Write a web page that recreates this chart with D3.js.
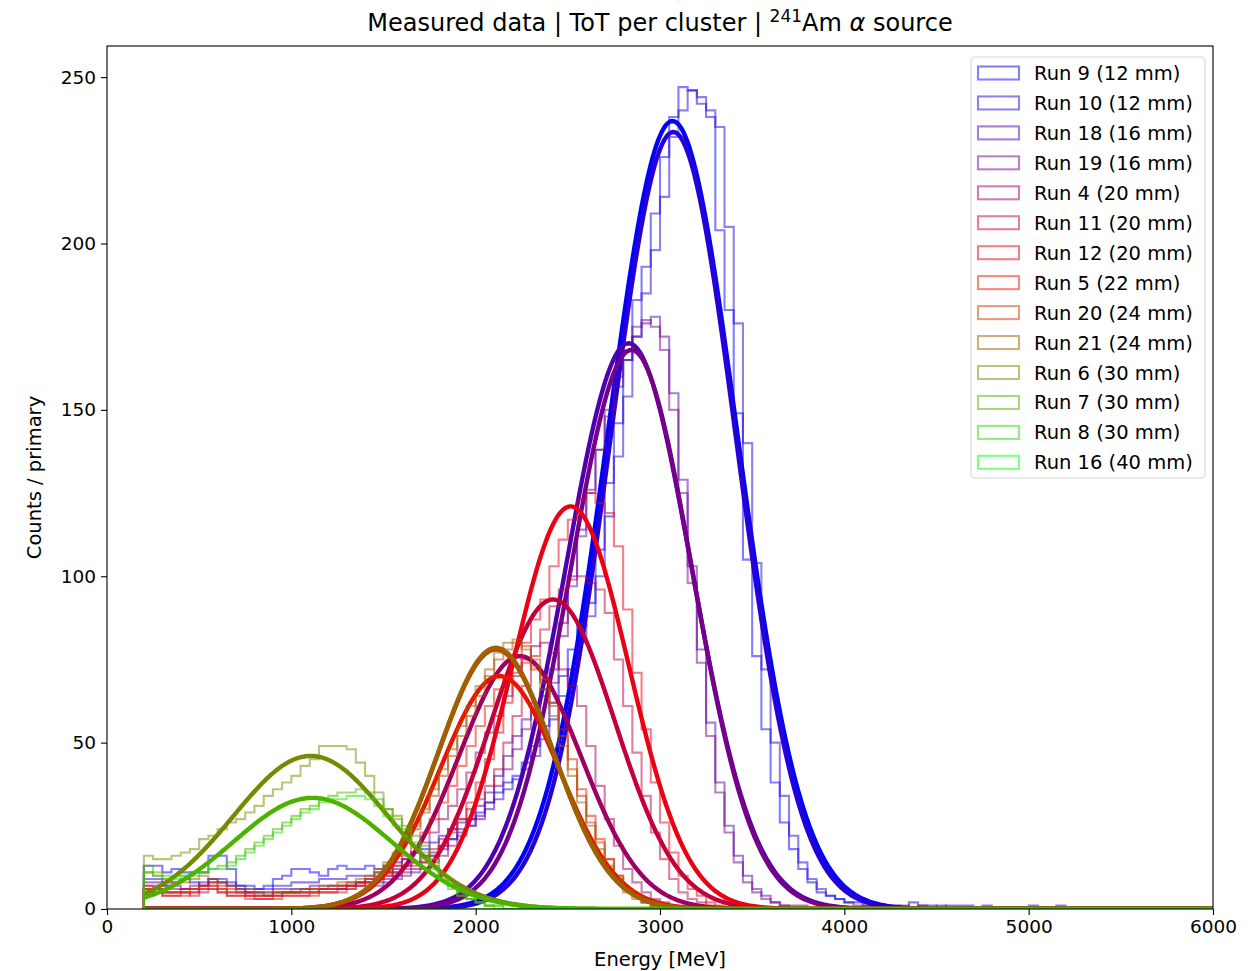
<!DOCTYPE html>
<html lang="en">
<head>
<meta charset="utf-8">
<title>ToT per cluster</title>
<script src="https://d3js.org/d3.v7.min.js"></script>
<style>
body { margin: 0; background: #fff; }
text { font-family: "DejaVu Sans", sans-serif; fill: #000; }
</style>
</head>
<body>
<div id="chart"></div>
<script>
// runs, in plotting order
var runLabels = ["Run 9 (12 mm)", "Run 10 (12 mm)", "Run 18 (16 mm)", "Run 19 (16 mm)",
  "Run 4 (20 mm)", "Run 11 (20 mm)", "Run 12 (20 mm)", "Run 5 (22 mm)", "Run 20 (24 mm)",
  "Run 21 (24 mm)", "Run 6 (30 mm)", "Run 7 (30 mm)", "Run 8 (30 mm)", "Run 16 (40 mm)"];

// histogram bins: 50 MeV wide from 200 to 6000, counts per bin (empty bins after the list)
var binStart = 200, binWidth = 50, binCount = 116;

var histRun9 = [13,13,11,12,11,11,11,16,16,12, 7,7,6,7,9,10,12,12,11,10,
  12,13,12,12,13,12,13,14,15,17, 18,20,22,24,26,27,29,32,35,38,
  40,44,49,55,62,70,78,85,92,108, 128,146,165,183,193,209,226,238,247,246,
  242,238,204,180,149,105,76,54,38,26, 18,12,8,5,4,3,2,2,1,1,
  1,1,0,2,1,1,0,1,1,1, 0,1,0,0,0,0,1,0,0,1];
var histRun10 = [9,9,8,8,9,8,7,9,9,8, 7,6,6,6,7,7,8,8,8,9,
  9,9,10,10,10,11,11,12,13,14, 16,17,19,21,23,25,27,30,33,36,
  39,42,46,51,57,64,72,80,88,100, 118,136,154,172,185,198,214,232,240,246,
  244,240,235,205,176,140,104,72,50,34, 22,14,9,6,4,3,2,1,1,1,
  1,0,1,0,1,0,1];
var histRun18 = [8,8,7,7,6,7,8,9,8,7, 6,5,5,5,6,6,6,6,7,7,
  7,7,7,8,8,8,9,10,11,12, 14,16,18,21,24,27,31,35,40,46,
  52,57,62,66,72,86,100,114,126,138, 148,157,165,172,176,178,172,155,129,103,
  78,56,38,25,16,10,6,4,2,1, 1,1];
var histRun19 = [7,7,7,6,6,6,7,8,8,7, 6,5,5,4,5,5,5,6,6,6,
  6,6,7,7,7,7,8,9,10,11, 12,14,16,19,22,25,28,32,37,42,
  48,54,60,64,68,82,97,112,125,138, 150,160,168,175,177,175,168,150,125,98,
  74,52,35,23,14,8,5,3,2,1];
var histRun4 = [6,6,5,5,5,5,6,7,6,5, 5,4,4,4,4,5,5,5,5,6,
  6,6,7,8,9,10,11,13,15,17, 20,23,27,31,36,41,47,53,58,64,
  70,75,79,80,77,72,67,61,49,37, 27,19,12,8,5,3,2,1];
var histRun11 = [5,5,4,4,5,4,5,6,5,4, 4,4,3,3,4,4,4,4,5,5,
  5,6,6,7,8,9,10,11,13,14, 16,18,21,24,27,30,33,37,42,50,
  58,67,76,84,91,96,99,100,98,96, 89,75,61,47,34,23,15,9,5,3,
  2,1];
var histRun12 = [7,6,5,5,6,6,7,8,7,6, 5,5,4,4,5,5,5,5,6,6,
  7,7,8,8,9,9,10,11,12,13, 14,16,19,23,27,32,38,45,53,62,
  71,80,87,93,103,111,117,123,125,122, 119,109,90,71,54,38,26,17,10,6,
  4,2,1];
var histRun5 = [6,5,4,4,4,5,6,6,5,4, 4,3,3,3,3,4,4,4,4,5,
  5,5,6,7,8,9,11,13,16,19, 23,27,32,37,43,49,55,61,66,70,
  73,74,72,68,62,54,45,36,28,21, 15,10,6,4,2,1];
var histRun20 = [6,6,5,5,5,6,7,7,6,5, 5,4,4,4,4,5,5,5,5,6,
  6,7,7,8,9,11,13,16,20,24, 29,34,40,46,52,58,64,70,75,78,
  80,79,75,69,61,52,42,34,26,20, 15,10,6,4,2,1];
var histRun21 = [11,10,9,8,8,9,10,9,8,7, 6,6,5,5,5,5,6,6,6,7,
  7,8,8,9,10,12,14,17,21,25, 30,36,42,48,55,61,67,72,77,80,
  81,78,73,66,58,49,40,32,25,18, 13,9,5,3,2,1];
var histRun6 = [16,15,15,16,17,18,21,22,24,26, 27,29,31,34,36,38,40,43,45,49,
  49,49,48,44,40,35,30,28,25,22, 19,15,10,7,4,3,2,1];
var histRun7 = [13,11,10,10,10,11,11,12,13,14, 16,18,20,22,24,26,28,30,31,33,
  34,35,35,36,35,33,30,27,24,20, 17,13,10,7,5,3,2,1,1];
var histRun8 = [11,10,9,9,10,10,11,12,12,13, 15,17,19,21,23,25,27,29,30,32,
  33,33,34,34,33,31,28,25,22,19, 15,12,9,6,4,3,2,1,1];
var histRun16 = [];

var histCounts = [histRun9, histRun10, histRun18, histRun19, histRun4, histRun11, histRun12,
  histRun5, histRun20, histRun21, histRun6, histRun7, histRun8, histRun16];

// gaussian fit parameters per run (null: no fit curve shown)
var fitAmp   = [236.8, 233.5, 170, 168, 76, 93, 121, 70, 78, 78.5, 46, 33.4, null, null];
var fitMean  = [3068, 3072, 2830, 2845, 2240, 2420, 2515, 2130, 2110, 2110, 1105, 1115, null, null];
var fitSigma = [350, 340, 340, 330, 330, 335, 315, 320, 310, 310, 420, 428, null, null];

var xTicks = [0, 1000, 2000, 3000, 4000, 5000, 6000];
var yTicks = [0, 50, 100, 150, 200, 250];

var W = 1250, H = 971;
var padL = 107, padR = 1213, padT = 46, padB = 909;

var svg = d3.select("#chart").append("svg").attr("width", W).attr("height", H);

var x = d3.scaleLinear().domain([0, 6000]).range([padL, padR]);
var y = d3.scaleLinear().domain([0, 259.35]).range([padB, padT]);

// matplotlib "brg" colormap
function brg(t) {
  var r, g, b;
  if (t <= 0.5) { r = 2 * t; g = 0; b = 1 - 2 * t; }
  else { r = 2 - 2 * t; g = 2 * t - 1; b = 0; }
  return d3.rgb(r * 255, g * 255, b * 255).formatHex();
}
var colors = runLabels.map(function (d, i) { return brg(i / (runLabels.length - 1)); });

svg.append("clipPath").attr("id", "plotclip").append("rect")
  .attr("x", padL).attr("y", padT).attr("width", padR - padL).attr("height", padB - padT);

var plot = svg.append("g").attr("clip-path", "url(#plotclip)");
var line = d3.line().x(function (d) { return x(d[0]); }).y(function (d) { return y(d[1]); });

function histPoints(counts) {
  var pts = [[binStart, 0]];
  for (var k = 0; k < binCount; k++) {
    var c = counts[k] || 0;
    pts.push([binStart + k * binWidth, c]);
    pts.push([binStart + (k + 1) * binWidth, c]);
  }
  pts.push([binStart + binCount * binWidth, 0]);
  return pts;
}

function fitPoints(a, mu, s) {
  var pts = [];
  for (var e = 200; e <= 6000; e += 10) {
    pts.push([e, a * Math.exp(-0.5 * Math.pow((e - mu) / s, 2))]);
  }
  return pts;
}

histCounts.forEach(function (counts, i) {
  plot.append("path")
    .attr("d", line(histPoints(counts)))
    .attr("fill", "none")
    .attr("stroke", colors[i])
    .attr("stroke-opacity", 0.5)
    .attr("stroke-width", 2.1)
    .attr("stroke-linejoin", "miter");
  if (fitAmp[i] !== null) {
    plot.append("path")
      .attr("d", line(fitPoints(fitAmp[i], fitMean[i], fitSigma[i])))
      .attr("fill", "none")
      .attr("stroke", colors[i])
      .attr("stroke-width", 4.4)
      .attr("stroke-linecap", "butt");
  }
});

// axes
var xAxis = svg.append("g").attr("transform", "translate(0," + padB + ")")
  .call(d3.axisBottom(x).tickValues(xTicks).tickSize(6).tickPadding(5).tickFormat(d3.format("d")));
var yAxis = svg.append("g").attr("transform", "translate(" + padL + ",0)")
  .call(d3.axisLeft(y).tickValues(yTicks).tickSize(6).tickPadding(5).tickFormat(d3.format("d")));
[xAxis, yAxis].forEach(function (a) {
  a.select(".domain").remove();
  a.selectAll("line").attr("stroke", "#000").attr("stroke-width", 1.1);
  a.selectAll("text").style("font-family", "DejaVu Sans").style("font-size", "18.5px").attr("fill", "#000");
});

svg.append("rect").attr("x", padL).attr("y", padT)
  .attr("width", padR - padL).attr("height", padB - padT)
  .attr("fill", "none").attr("stroke", "#000").attr("stroke-width", 1.1);

// labels
svg.append("text").attr("x", (padL + padR) / 2).attr("y", 966)
  .attr("text-anchor", "middle").style("font-size", "19.5px").text("Energy [MeV]");
svg.append("text").attr("transform", "translate(41," + ((padT + padB) / 2) + ") rotate(-90)")
  .attr("text-anchor", "middle").style("font-size", "19.5px").text("Counts / primary");

var title = svg.append("text").attr("x", (padL + padR) / 2).attr("y", 31)
  .attr("text-anchor", "middle").style("font-size", "24px");
title.append("tspan").text("Measured data | ToT per cluster | ");
title.append("tspan").attr("dy", -9).style("font-size", "17px").text("241");
title.append("tspan").attr("dy", 9).text("Am ");
title.append("tspan").style("font-style", "italic").text("\u03b1");
title.append("tspan").text(" source");

// legend
var lg = svg.append("g");
lg.append("rect").attr("x", 971).attr("y", 57).attr("width", 234).attr("height", 421)
  .attr("rx", 4).attr("fill", "#fff").attr("fill-opacity", 0.8)
  .attr("stroke", "#d6d6d6").attr("stroke-width", 1.1);
runLabels.forEach(function (lab, i) {
  var cy = 73 + i * 29.95;
  lg.append("rect").attr("x", 978).attr("y", cy - 6.5).attr("width", 41).attr("height", 13)
    .attr("fill", "none").attr("stroke", colors[i]).attr("stroke-opacity", 0.5).attr("stroke-width", 2.1);
  lg.append("text").attr("x", 1034).attr("y", cy + 7).style("font-size", "19.5px").text(lab);
});
</script>
</body>
</html>
